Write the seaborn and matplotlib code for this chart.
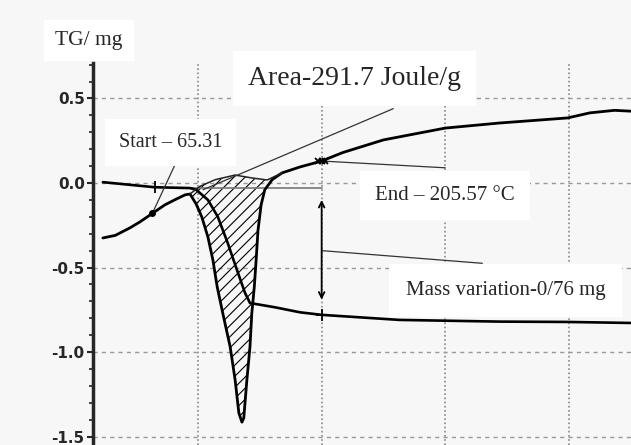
import numpy as np
import matplotlib
matplotlib.use("Agg")
import matplotlib.pyplot as plt
from matplotlib.ticker import MultipleLocator
import seaborn as sns

# DSC signal, temperature in degC
dsc_temp = [23, 33, 45, 53, 63, 73, 81, 89.5, 93.5, 98.5,
            103, 108, 112, 115.5, 120, 126, 130, 133, 135.5, 137,
            139.5, 142, 143.5, 145.5, 147, 148.5, 151, 154, 160, 168,
            182.5, 200, 217, 250, 300, 344, 399, 417, 437, 450]
dsc_val = [-0.325, -0.31, -0.265, -0.23, -0.18, -0.13, -0.10, -0.07, -0.065, -0.125,
           -0.20, -0.32, -0.455, -0.615, -0.77, -0.97, -1.165, -1.36, -1.415, -1.39,
           -1.165, -0.97, -0.77, -0.615, -0.455, -0.28, -0.13, -0.04, 0.02, 0.06,
           0.095, 0.13, 0.18, 0.255, 0.325, 0.355, 0.385, 0.415, 0.43, 0.425]

# TG curve (mass change)
tg_temp = [23, 65, 93.5, 98.5, 108, 116, 124, 131.5, 138, 142,
           150, 162, 182.5, 200, 263, 344, 399, 450]
tg_mass = [0.005, -0.025, -0.03, -0.04, -0.10, -0.20, -0.355, -0.515, -0.65, -0.71,
           -0.72, -0.735, -0.765, -0.78, -0.81, -0.82, -0.822, -0.828]

# integration baseline over the peak (top of hatched area)
base_temp = [93.5, 101.5, 114, 130, 143.5, 156, 168]
base_val = [-0.065, -0.02, 0.02, 0.047, 0.03, 0.018, 0.06]

# marked points
start_pt = (63, -0.18)
start_tg = (65, -0.025)
end_pt = (200, 0.13)
end_tg = (200, -0.78)

# leader lines
area_ptr = ([104, 258], [-0.04, 0.44])
start_ptr = ([63, 84], [-0.18, 0.15])
end_ptr = ([200, 300], [0.13, 0.09])
mass_ptr = ([200, 330], [-0.40, -0.475])
tg_ext = ([93.5, 200], [-0.03, -0.03])
mass_arrow = (200, -0.10, -0.69)

yticks = [-1.5, -1.0, -0.5, 0.0, 0.5]
ytick_labels = ["-1.5", "-1.0", "-0.5", "0.0", "0.5"]
xgrid = [100, 200, 300, 400]

sns.set_style("ticks")
plt.rcParams['font.family'] = ['Liberation Serif', 'DejaVu Serif']
plt.rcParams['hatch.linewidth'] = 0.8

bg = "#f7f7f7"
fig = plt.figure(figsize=(6.31, 4.45), dpi=100, facecolor=bg)
ax = fig.add_axes([93 / 631, 0, 538 / 631, 382 / 445], facecolor=bg)

# hatched peak area
dt = np.array(dsc_temp)
dv = np.array(dsc_val)
m = (dt >= base_temp[0]) & (dt <= base_temp[-1])
poly_x = list(dt[m]) + base_temp[::-1]
poly_y = list(dv[m]) + base_val[::-1]
ax.fill(poly_x, poly_y, facecolor="none", edgecolor="black", hatch="///", linewidth=0, zorder=2)

sns.lineplot(x=dsc_temp, y=dsc_val, ax=ax, color="black", lw=2, estimator=None, sort=False, zorder=3)
sns.lineplot(x=tg_temp, y=tg_mass, ax=ax, color="black", lw=1.9, estimator=None, sort=False, zorder=3)
ax.plot(base_temp, base_val, color="#222222", lw=1.1, zorder=3)

# thin helper lines
ax.plot(*tg_ext, color="#777777", lw=1.2, zorder=2)
for xs, ys in [area_ptr, start_ptr, end_ptr, mass_ptr]:
    ax.plot(xs, ys, color="#333333", lw=0.9, zorder=3)

ax.annotate("", xy=(mass_arrow[0], mass_arrow[1]), xytext=(mass_arrow[0], mass_arrow[2]),
            arrowprops=dict(arrowstyle="<->", lw=1.3, color="black", shrinkA=0, shrinkB=0),
            zorder=4)

ax.plot(*start_pt, marker="o", ms=4, color="black", zorder=4)
ax.plot(*start_tg, marker="|", ms=8, mew=1.3, color="black", zorder=4)
for dx in (-3, 0, 3):
    ax.plot(end_pt[0] + dx, end_pt[1], marker="x", ms=5, mew=1.3, color="black", zorder=4)
ax.plot(*end_tg, marker="+", ms=8, mew=1.3, color="black", zorder=4)

box = dict(facecolor="white", edgecolor="none")
ax.text(140.5, 0.58, "Area-291.7 Joule/g", fontsize=20, zorder=5, bbox=dict(box, pad=11))
ax.text(36, 0.213, "Start – 65.31", fontsize=14.5, zorder=5, bbox=dict(box, pad=10))
ax.text(243, -0.10, "End – 205.57 °C", fontsize=15, zorder=5, bbox=dict(box, pad=11))
ax.text(268, -0.663, "Mass variation-0/76 mg", fontsize=15, zorder=5, bbox=dict(box, pad=12))
fig.text(55 / 631, 1 - 45 / 445, "TG/ mg", fontsize=15.5, bbox=dict(box, pad=8))

ax.set_xlim(15, 450.3)
ax.set_ylim(-1.55, 0.71)
ax.set_xticks(xgrid)
ax.set_yticks(yticks)
ax.set_yticklabels(ytick_labels, family="DejaVu Sans", fontweight="bold", fontsize=11)
ax.yaxis.set_minor_locator(MultipleLocator(0.1))
ax.tick_params(axis="x", length=0, labelbottom=False)
ax.tick_params(axis="y", which="major", length=4, width=1.5, pad=2)
ax.tick_params(axis="y", which="minor", length=3, width=1.2)
ax.xaxis.grid(True, ls=(0, (1, 1.5)), color="#888888", lw=1.2, zorder=0)
ax.yaxis.grid(True, ls=(0, (3, 3)), color="#999999", lw=1.0, zorder=0)
ax.set_axisbelow(True)
for s in ["top", "right", "bottom"]:
    ax.spines[s].set_visible(False)
ax.spines["left"].set_linewidth(2.5)
ax.set_xlabel("")
ax.set_ylabel("")

fig.savefig("out.png", dpi=100, facecolor=bg)
